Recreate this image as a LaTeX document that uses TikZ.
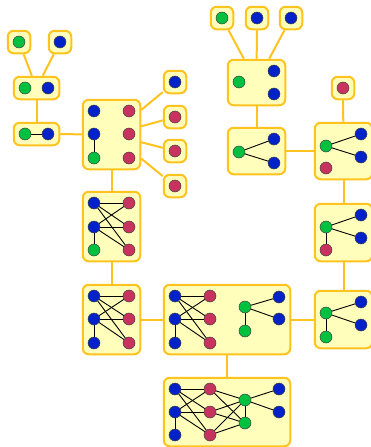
\documentclass[tikz,border=0pt]{standalone}
\usepackage{tikz}
\usetikzlibrary{fit}
\usetikzlibrary{backgrounds}
\usepackage{xcolor}
\definecolor{boxfill}{HTML}{FFFFBB}
\definecolor{boxline}{HTML}{FFC31F}
\definecolor{ngreen}{HTML}{00C040}
\definecolor{nblue}{HTML}{0022C8}
\definecolor{nred}{HTML}{C8325F}

\begin{document}
\begin{tikzpicture}[x=1pt, y=-1pt,
        n/.style={circle, draw=black!75, line width=0.5pt, minimum size=12pt, inner sep=0pt},
        gr/.style={n, fill=ngreen}, bl/.style={n, fill=nblue}, rd/.style={n, fill=nred},
        box/.style={draw=boxline, fill=boxfill, line width=2pt, rounded corners=6pt, inner sep=5pt},
        link/.style={draw=boxline, line width=2pt},
        every edge/.style={draw, line width=0.9pt}]
        \useasboundingbox (0, 0) rectangle (371, 447);

        % left branch
        \node[gr] (a1) at (19, 42) {};
        \node[bl] (b1) at (60, 42) {};
        \node[gr] (c1) at (25, 88) {};
        \node[bl] (c2) at (48, 88) {};
        \node[gr] (d1) at (25, 134) {};
        \node[bl] (d2) at (48, 134) {};
        \draw (d1) edge (d2);

        \node[bl] (e1) at (94, 111) {};
        \node[bl] (e2) at (94, 134) {};
        \node[gr] (e3) at (94, 158) {};
        \node[rd] (e4) at (129, 111) {};
        \node[rd] (e5) at (129, 134) {};
        \node[rd] (e6) at (129, 158) {};
        \draw (e2) edge (e3);

        \node[bl] (s1) at (175, 82) {};
        \node[rd] (s2) at (175, 117) {};
        \node[rd] (s3) at (175, 151) {};
        \node[rd] (s4) at (175, 186) {};

        \node[bl] (f1) at (94, 203) {};
        \node[bl] (f2) at (94, 227) {};
        \node[gr] (f3) at (94, 250) {};
        \node[rd] (f4) at (129, 203) {};
        \node[rd] (f5) at (129, 227) {};
        \node[rd] (f6) at (129, 250) {};
        \draw (f1) edge (f4) edge (f5) edge (f6);
        \draw (f2) edge (f4) edge (f5) edge (f6) edge (f3);

        \node[bl] (g1) at (94, 296) {};
        \node[bl] (g2) at (94, 319) {};
        \node[bl] (g3) at (94, 343) {};
        \node[rd] (g4) at (129, 296) {};
        \node[rd] (g5) at (129, 319) {};
        \node[rd] (g6) at (129, 343) {};
        \draw (g1) edge (g4) edge (g5) edge (g6);
        \draw (g2) edge (g4) edge (g5) edge (g6) edge (g3);

        % middle
        \node[bl] (h1) at (175, 296) {};
        \node[bl] (h2) at (175, 319) {};
        \node[bl] (h3) at (175, 343) {};
        \node[rd] (h4) at (210, 296) {};
        \node[rd] (h5) at (210, 319) {};
        \node[rd] (h6) at (210, 343) {};
        \node[gr] (h7) at (245, 307) {};
        \node[gr] (h8) at (245, 331) {};
        \node[bl] (h9) at (279, 297) {};
        \node[bl] (h10) at (279, 319) {};
        \draw (h1) edge (h4) edge (h5) edge (h6);
        \draw (h2) edge (h4) edge (h5) edge (h6) edge (h3);
        \draw (h7) edge (h9) edge (h10) edge (h8);

        \node[bl] (n1) at (175, 389) {};
        \node[bl] (n2) at (175, 412) {};
        \node[bl] (n3) at (175, 435) {};
        \node[rd] (n4) at (210, 389) {};
        \node[rd] (n5) at (210, 412) {};
        \node[rd] (n6) at (210, 435) {};
        \node[gr] (n7) at (245, 400) {};
        \node[gr] (n8) at (245, 423) {};
        \node[bl] (n9) at (279, 389) {};
        \node[bl] (n10) at (279, 412) {};
        \draw (n1) edge (n4) edge (n5) edge (n6);
        \draw (n2) edge (n4) edge (n5) edge (n6) edge (n3);
        \draw (n4) edge (n7) edge (n8);
        \draw (n5) edge (n7) edge (n8);
        \draw (n6) edge (n7) edge (n8);
        \draw (n7) edge (n9) edge (n10) edge (n8);

        % right branch
        \node[gr] (i1) at (326, 313) {};
        \node[gr] (i2) at (326, 337) {};
        \node[bl] (i3) at (361, 302) {};
        \node[bl] (i4) at (361, 325) {};
        \draw (i1) edge (i3) edge (i4) edge (i2);

        \node[gr] (j1) at (326, 227) {};
        \node[rd] (j2) at (326, 250) {};
        \node[bl] (j3) at (361, 215) {};
        \node[bl] (j4) at (361, 238) {};
        \draw (j1) edge (j3) edge (j4) edge (j2);

        \node[gr] (k1) at (326, 146) {};
        \node[rd] (k2) at (326, 168) {};
        \node[bl] (k3) at (361, 134) {};
        \node[bl] (k4) at (361, 157) {};
        \draw (k1) edge (k3) edge (k4);
        \node[rd] (t1) at (343, 88) {};

        \node[gr] (l1) at (239, 152) {};
        \node[bl] (l2) at (274, 139) {};
        \node[bl] (l3) at (274, 163) {};
        \draw (l1) edge (l2) edge (l3);

        \node[gr] (m1) at (239, 82) {};
        \node[bl] (m2) at (274, 71) {};
        \node[bl] (m3) at (274, 94) {};

        \node[gr] (u1) at (222, 18) {};
        \node[bl] (u2) at (257, 18) {};
        \node[bl] (u3) at (291, 18) {};

        \begin{pgfonlayer}{background}
        \node[box, fit=(a1)] (A) {};
        \node[box, fit=(b1)] (B) {};
        \node[box, fit=(c1)(c2)] (C) {};
        \node[box, fit=(d1)(d2)] (D) {};
        \node[box, fit=(e1)(e6)] (E) {};
        \node[box, fit=(s1)] (S1) {};
        \node[box, fit=(s2)] (S2) {};
        \node[box, fit=(s3)] (S3) {};
        \node[box, fit=(s4)] (S4) {};
        \node[box, fit=(f1)(f6)] (F) {};
        \node[box, fit=(g1)(g6)] (G) {};
        \node[box, fit=(h1)(h6)(h9)] (H) {};
        \node[box, fit=(n1)(n3)(n9)] (N) {};
        \node[box, fit=(i1)(i2)(i3)] (I) {};
        \node[box, fit=(j2)(j3)] (J) {};
        \node[box, fit=(k2)(k3)] (K) {};
        \node[box, fit=(t1)] (T) {};
        \node[box, fit=(l1)(l2)(l3)] (L) {};
        \node[box, fit=(m1)(m2)(m3)] (M) {};
        \node[box, fit=(u1)] (U1) {};
        \node[box, fit=(u2)] (U2) {};
        \node[box, fit=(u3)] (U3) {};

        \draw[link] (A) -- (C);
        \draw[link] (B) -- (C);
        \draw[link] (C) -- (D);
        \draw[link] (D) -- (E);
        \draw[link] (E) -- (S1);
        \draw[link] (E) -- (S2);
        \draw[link] (E) -- (S3);
        \draw[link] (E) -- (S4);
        \draw[link] (E) -- (F);
        \draw[link] (F) -- (G);
        \draw[link] (G) -- (H);
        \draw[link] (H) -- (N);
        \draw[link] (H) -- (I);
        \draw[link] (I) -- (J);
        \draw[link] (J) -- (K);
        \draw[link] (K) -- (T);
        \draw[link] (K) -- (L);
        \draw[link] (L) -- (M);
        \draw[link] (M) -- (U1);
        \draw[link] (M) -- (U2);
        \draw[link] (M) -- (U3);
        \end{pgfonlayer}
    \end{tikzpicture}
\end{document}
